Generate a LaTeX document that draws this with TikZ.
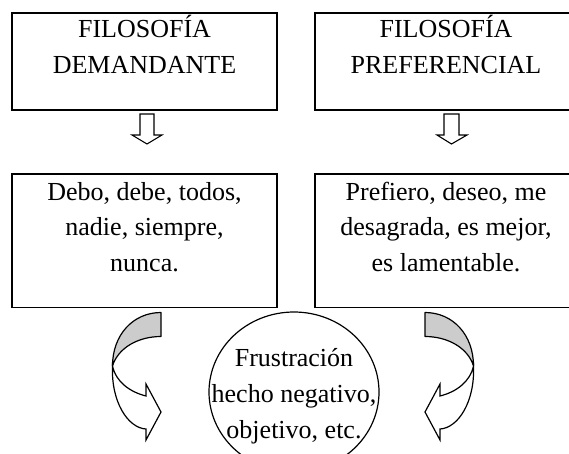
\documentclass[tikz,border=0pt]{standalone}
\usepackage{fontspec}
\setmainfont{Liberation Serif}
\usetikzlibrary{shapes.geometric}
\begin{document}
\begin{tikzpicture}[x=1pt,y=-1pt]
\tikzset{
  box/.style={draw, line width=1.7pt, rectangle, inner sep=0pt},
  txt/.style={font=\fontsize{26}{31}\selectfont, anchor=base, inner sep=0pt},
  blk/.style={draw, line width=1.1pt, fill=white, line join=miter},
  backband/.style={draw, line width=1.2pt, fill=gray!40, line join=round},
  frontband/.style={draw, line width=1.2pt, fill=white, line join=miter},
  oval/.style={draw, ellipse, line width=1.2pt, fill=white, inner sep=0pt},
}
\useasboundingbox (0,0) rectangle (569,453);

% boxes
\node[box, minimum width=265pt, minimum height=97pt] (p1) at (144.5,61.5) {};
\node[box, minimum width=262pt, minimum height=97pt] (p2) at (446,61.5) {};
\node[box, minimum width=265pt, minimum height=133.5pt] (w1) at (144.5,240.75) {};
\node[box, minimum width=262pt, minimum height=133.5pt] (w2) at (446,240.75) {};

% texts
\node[txt] (t1a) at (144.5,37.8) {FILOSOFÍA};
\node[txt] (t1b) at (144.5,73.2) {DEMANDANTE};
\node[txt] (t2a) at (446,37.8) {FILOSOFÍA};
\node[txt] (t2b) at (446,73.2) {PREFERENCIAL};

\node[txt] (t3a) at (144.5,200) {Debo, debe, todos,};
\node[txt] (t3b) at (144.5,235.5) {nadie, siempre,};
\node[txt] (t3c) at (144.5,271) {nunca.};
\node[txt] (t4a) at (446,200) {Prefiero, deseo, me};
\node[txt] (t4b) at (446,235.5) {desagrada, es mejor,};
\node[txt] (t4c) at (446,271) {es lamentable.};

% down block arrows
\draw[blk] (140,114) -- (154,114) -- (154,135) -- (162,135) -- (147,144) -- (132,135) -- (140,135) -- cycle;
\draw[blk] (444,114) -- (459,114) -- (459,135) -- (467,135) -- (451.5,144) -- (437,135) -- (444,135) -- cycle;

% ellipse
\node[oval, minimum width=170pt, minimum height=160pt] (e) at (294,392) {};
\node[txt] (e1) at (294,366) {Frustración};
\node[txt] (e2) at (294,402) {hecho negativo,};
\node[txt] (e3) at (294,438) {objetivo, etc.};

% curved arrows
\foreach \s/\sh in {1/0, -1/586} {
\begin{scope}[xshift=\sh pt, xscale=\s]
  \draw[backband] (161,312.5) .. controls (133,312.5) and (112.5,335) .. (112.5,366)
     .. controls (118,348) and (138,336.5) .. (161,336.5) -- cycle;
  \draw[frontband] (112.5,366) .. controls (111,402) and (128,428) .. (146,429)
     -- (146,440) -- (161,412) -- (146,384) -- (146,396)
     .. controls (130,392) and (116,382) .. (112.5,366) -- cycle;
\end{scope}
}
\end{tikzpicture}
\end{document}
